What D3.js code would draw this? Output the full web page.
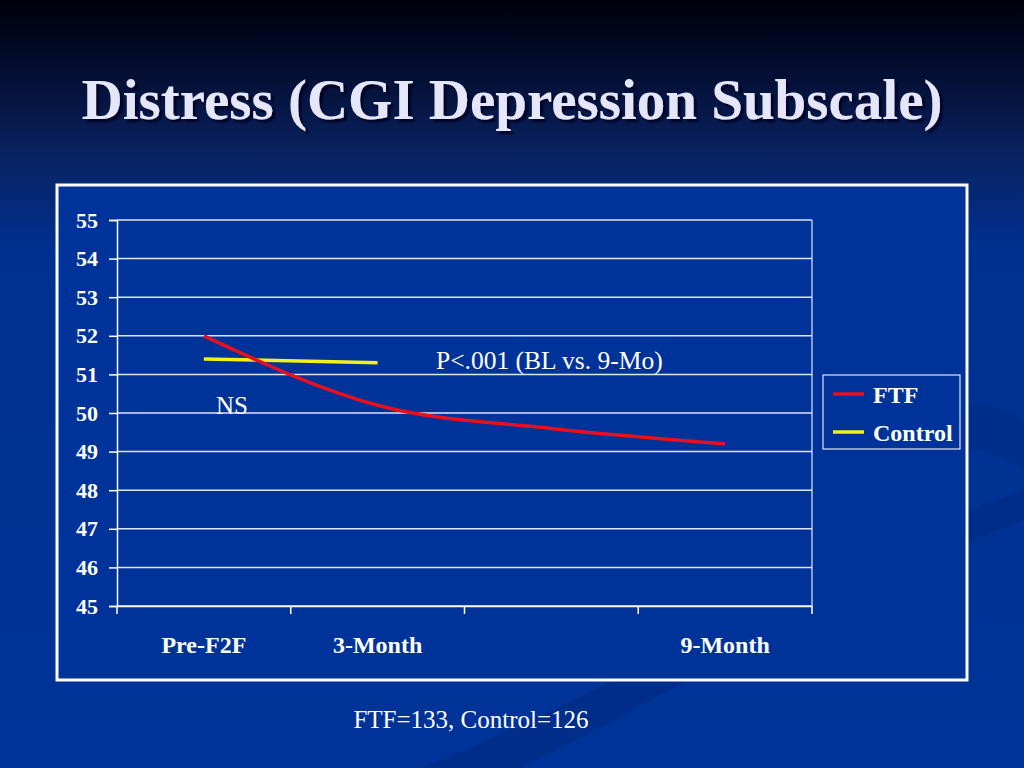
<!DOCTYPE html>
<html>
<head>
<meta charset="utf-8">
<script src="https://cdn.jsdelivr.net/npm/d3@7"></script>
<style>
  html, body { margin: 0; padding: 0; background: #003399; }
  svg { display: block; }
</style>
</head>
<body>
<div id="chart"></div>
<script>
// 数据
const categories = ["Pre-F2F", "3-Month", "", "9-Month"];
const ftfValues = [52.0, 50.2, 49.6, 49.2];
const controlValues = [51.4, 51.3];
const yTicks = [45, 46, 47, 48, 49, 50, 51, 52, 53, 54, 55];
const seriesNames = ["FTF", "Control"];
const seriesColors = ["#e8101e", "#f2f21a"];

const width = 1024, height = 768;
const plot = { left: 117, right: 812, top: 220, bottom: 606 };

const svg = d3.select("#chart").append("svg")
    .attr("width", width)
    .attr("height", height);

// 背景渐变
const defs = svg.append("defs");
const bg = defs.append("linearGradient")
    .attr("id", "bg").attr("x1", 0).attr("y1", 0).attr("x2", 0).attr("y2", 1);
bg.append("stop").attr("offset", "0%").attr("stop-color", "#00000c");
bg.append("stop").attr("offset", "8%").attr("stop-color", "#020c2c");
bg.append("stop").attr("offset", "20%").attr("stop-color", "#0a2260");
bg.append("stop").attr("offset", "32%").attr("stop-color", "#00308f");
bg.append("stop").attr("offset", "100%").attr("stop-color", "#003399");

const shadow = defs.append("filter").attr("id", "shadow")
    .attr("x", "-5%").attr("y", "-20%").attr("width", "115%").attr("height", "150%");
shadow.append("feDropShadow")
    .attr("dx", 3).attr("dy", 3).attr("stdDeviation", 1.2)
    .attr("flood-color", "#000020").attr("flood-opacity", 0.9);

svg.append("rect")
    .attr("width", width).attr("height", height)
    .attr("fill", "url(#bg)");

// 右下角的淡色弧形装饰
svg.append("path")
    .attr("d", "M420,768 C620,690 820,560 1024,490 L1024,520 C840,590 660,700 520,768 Z")
    .attr("fill", "#002a80").attr("opacity", 0.55);
svg.append("path")
    .attr("d", "M600,640 C720,560 800,470 880,420 C940,390 990,400 1024,420 L1024,470 C980,440 930,440 880,470 C800,520 720,600 640,660 Z")
    .attr("fill", "#002c84").attr("opacity", 0.5);

const serif = "'Liberation Serif', 'Times New Roman', serif";

// 标题
svg.append("text")
    .attr("x", 512).attr("y", 119)
    .attr("text-anchor", "middle")
    .attr("font-family", serif)
    .attr("font-weight", "bold")
    .attr("font-size", "57px")
    .attr("fill", "#e6e6fa")
    .attr("filter", "url(#shadow)")
    .text("Distress (CGI Depression Subscale)");

// 图表外框
svg.append("rect")
    .attr("x", 57).attr("y", 185)
    .attr("width", 910).attr("height", 495)
    .attr("fill", "#003399")
    .attr("stroke", "white").attr("stroke-width", 3);

const xBand = d3.scaleBand()
    .domain(d3.range(categories.length))
    .range([plot.left, plot.right]);
const xPos = i => xBand(i) + xBand.bandwidth() / 2;

const y = d3.scaleLinear()
    .domain([45, 55])
    .range([plot.bottom, plot.top]);

// 网格线
svg.append("g")
    .selectAll("line")
    .data(yTicks)
    .join("line")
    .attr("x1", plot.left).attr("x2", plot.right)
    .attr("y1", d => y(d)).attr("y2", d => y(d))
    .attr("stroke", "#dfe6f5").attr("stroke-width", 1.5);

// 绘图区右边线
svg.append("line")
    .attr("x1", plot.right).attr("x2", plot.right)
    .attr("y1", plot.top).attr("y2", plot.bottom)
    .attr("stroke", "#dfe6f5").attr("stroke-width", 1.2);

// Y轴
const yAxis = svg.append("g")
    .attr("transform", `translate(${plot.left},0)`)
    .call(d3.axisLeft(y).tickValues(yTicks).tickSize(8).tickPadding(11).tickFormat(d3.format("d")));
yAxis.select(".domain").attr("stroke", "white").attr("stroke-width", 1.5);
yAxis.selectAll(".tick line").attr("stroke", "white").attr("stroke-width", 1.5);
yAxis.selectAll("text")
    .attr("fill", "white")
    .attr("font-family", serif)
    .attr("font-weight", "bold")
    .style("font-size", "22px");

// X轴
const xAxis = svg.append("g")
    .attr("transform", `translate(0,${plot.bottom})`)
    .call(d3.axisBottom(xBand).tickValues([]).tickSizeOuter(0));
xAxis.select(".domain").attr("stroke", "white").attr("stroke-width", 1.5);
xAxis.selectAll(".sep")
    .data(d3.range(categories.length + 1))
    .join("line")
    .attr("class", "sep")
    .attr("x1", i => plot.left + i * xBand.step())
    .attr("x2", i => plot.left + i * xBand.step())
    .attr("y1", 0).attr("y2", 8)
    .attr("stroke", "white").attr("stroke-width", 1.5);
xAxis.selectAll(".cat")
    .data(categories)
    .join("text")
    .attr("class", "cat")
    .attr("x", (d, i) => xPos(i))
    .attr("y", 47)
    .attr("text-anchor", "middle")
    .attr("fill", "white")
    .attr("font-family", serif)
    .attr("font-weight", "bold")
    .attr("font-size", "24px")
    .text(d => d);

// 折线
const line = d3.line()
    .x((d, i) => xPos(i))
    .y(d => y(d))
    .curve(d3.curveMonotoneX);

svg.append("path")
    .datum(controlValues)
    .attr("fill", "none")
    .attr("stroke", seriesColors[1])
    .attr("stroke-width", 3.5)
    .attr("d", line);

svg.append("path")
    .datum(ftfValues)
    .attr("fill", "none")
    .attr("stroke", seriesColors[0])
    .attr("stroke-width", 3.5)
    .attr("d", line);

// 注释
svg.append("text")
    .attr("x", 436).attr("y", 369)
    .attr("fill", "white")
    .attr("font-family", serif)
    .attr("font-size", "25.5px")
    .text("P<.001 (BL vs. 9-Mo)");

svg.append("text")
    .attr("x", 216).attr("y", 414)
    .attr("fill", "white")
    .attr("font-family", serif)
    .attr("font-size", "25px")
    .text("NS");

// 图例
const legend = svg.append("g").attr("transform", "translate(823,375)");
legend.append("rect")
    .attr("width", 137).attr("height", 74)
    .attr("fill", "none")
    .attr("stroke", "#dfe6f5").attr("stroke-width", 1.2);
const item = legend.selectAll(".item")
    .data(seriesNames)
    .join("g")
    .attr("class", "item")
    .attr("transform", (d, i) => `translate(0,${19 + i * 38})`);
item.append("line")
    .attr("x1", 10).attr("x2", 41)
    .attr("stroke", (d, i) => seriesColors[i])
    .attr("stroke-width", 3.5);
item.append("text")
    .attr("x", 50).attr("y", 9)
    .attr("fill", "white")
    .attr("font-family", serif)
    .attr("font-weight", "bold")
    .attr("font-size", "24px")
    .text(d => d);

// 底部样本量
svg.append("text")
    .attr("x", 471).attr("y", 728)
    .attr("text-anchor", "middle")
    .attr("fill", "white")
    .attr("font-family", serif)
    .attr("font-size", "25px")
    .text("FTF=133, Control=126");
</script>
</body>
</html>
